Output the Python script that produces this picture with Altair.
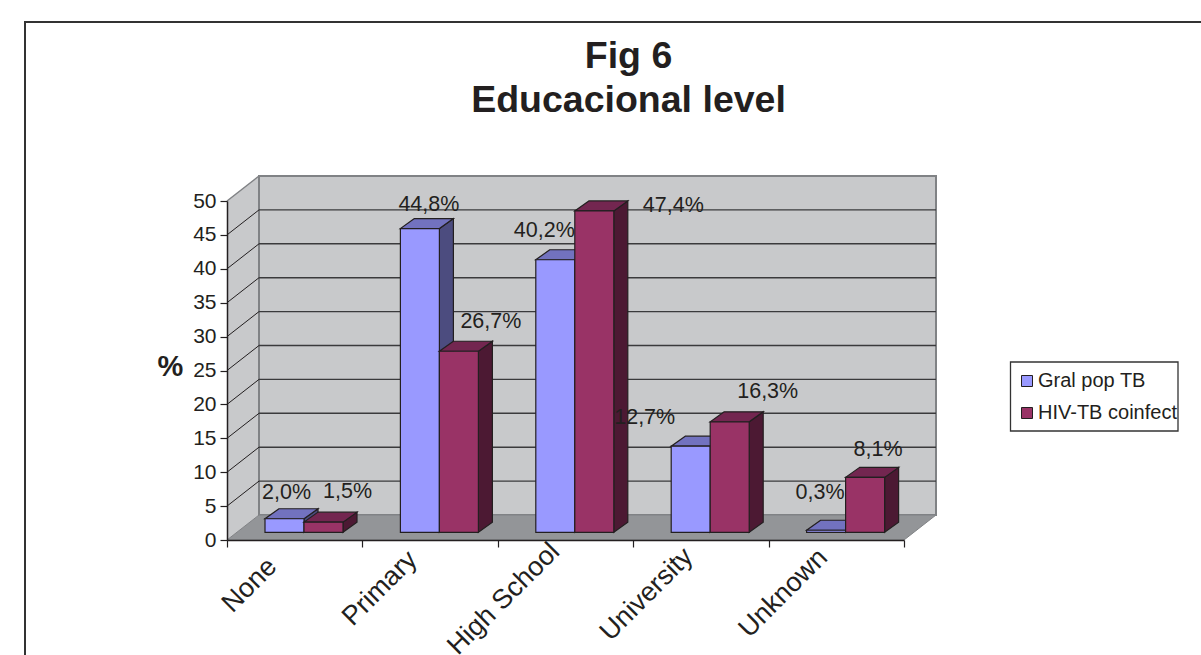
import altair as alt
import pandas as pd

categories = ["None", "Primary", "High School", "University", "Unknown"]
series_names = ["Gral pop TB", "HIV-TB coinfect"]
gral_pop = [2.0, 44.8, 40.2, 12.7, 0.3]
hiv_tb = [1.5, 26.7, 47.4, 16.3, 8.1]
y_ticks = [0, 5, 10, 15, 20, 25, 30, 35, 40, 45, 50]

# Hand-placed data labels: pixel nudge from the top centre of each bar's front face.
gral_label_nudge = [(2, -26), (9, -24), (-11, -29), (-46, -28), (-6, -37)]
hiv_label_nudge = [(24, -30), (32, -29), (79, -5), (38, -30), (13, -27)]

# Category labels were also placed by hand: shift along and away from the axis, per label.
cat_label_shift = [45, 50, 57, 55, 54, 0]
cat_label_gap = [15, 8, 0, 5, 6, 0]

PLOT_W, PLOT_H = 677, 339
PX_X, PX_Y = PLOT_W / 5, PLOT_H / 50

# Oblique projection: how far the back wall and each bar are pushed, in scale units.
WALL_DX, WALL_DY = 32 / PX_X, 25 / PX_Y
BAR_DX, BAR_DY = 14 / PX_X, 10 / PX_Y
BAR_BASE = 7.7 / PX_Y
BAR_LEFT, BAR_W = 38 / PX_X, 39 / PX_X

INK = "#231F20"
WALL = "#C8C9CB"
FLOOR = "#939598"
EDGE = "#808285"
FILLS = {
    series_names[0]: {"front": "#9999FF", "top": "#7272BF", "side": "#4C4C7F"},
    series_names[1]: {"front": "#993366", "top": "#732650", "side": "#4C1933"},
}
FONT = "Liberation Sans"

x_scale = alt.Scale(domain=[0, 5], nice=False, zero=False)
y_scale = alt.Scale(domain=[0, 50], nice=False, zero=False)
X = lambda f="x": alt.X(f"{f}:Q", scale=x_scale, axis=None)
Y = lambda f="y": alt.Y(f"{f}:Q", scale=y_scale, axis=None)

label_expr = "[" + ",".join(f"'{c}'" for c in categories) + f"][datum.value] || ''"
offset_expr = f"{cat_label_shift}[datum.value]"
padding_expr = f"{cat_label_gap}[datum.value]"

# Outer frame of the figure
frame = alt.Chart(pd.DataFrame({"a": [0]})).mark_rect(
    fill="white", stroke="#333333", strokeWidth=2
).encode(
    x=alt.value(25 - 227), x2=alt.value(1400), y=alt.value(22 - 201), y2=alt.value(800)
)

# Box behind the legend entries
legend_box = alt.Chart(pd.DataFrame({"a": [0]})).mark_rect(
    fill="white", stroke="#333333", strokeWidth=1.3
).encode(
    x=alt.value(1010.5 - 227), x2=alt.value(1178 - 227),
    y=alt.value(362 - 201), y2=alt.value(431 - 201),
)

# Walls and floor
left_wall = alt.Chart(pd.DataFrame({
    "x": [0, WALL_DX], "y": [0, WALL_DY], "y2": [50, 50 + WALL_DY],
})).mark_area(fill=WALL, stroke=None).encode(x=X(), y=Y(), y2="y2:Q")

back_wall = alt.Chart(pd.DataFrame({
    "x": [WALL_DX], "x2": [5 + WALL_DX], "y": [WALL_DY], "y2": [50 + WALL_DY],
})).mark_rect(fill=WALL, stroke=EDGE, strokeWidth=2).encode(x=X(), x2="x2:Q", y=Y(), y2="y2:Q")

floor = alt.Chart(pd.DataFrame({
    "y": [0, WALL_DY], "x": [0, WALL_DX], "x2": [5, 5 + WALL_DX],
})).mark_area(orient="horizontal", fill=FLOOR, stroke=EDGE, strokeWidth=1).encode(
    y=Y(), x=X(), x2="x2:Q"
)

# Gridlines run along the back wall and down the side wall to the axis
grid_vals = [v for v in y_ticks if 0 < v < 50]
grid_back = alt.Chart(pd.DataFrame({
    "x": [WALL_DX] * len(grid_vals), "x2": [5 + WALL_DX] * len(grid_vals),
    "y": [v + WALL_DY for v in grid_vals],
})).mark_rule(color="#3A3A3C", strokeWidth=1.4).encode(x=X(), x2="x2:Q", y=Y())

grid_side = alt.Chart(pd.DataFrame({
    "x": [0] * len(grid_vals), "x2": [WALL_DX] * len(grid_vals),
    "y": grid_vals, "y2": [v + WALL_DY for v in grid_vals],
})).mark_rule(color=INK, strokeWidth=1).encode(x=X(), x2="x2:Q", y=Y(), y2="y2:Q")

wall_top = alt.Chart(pd.DataFrame({
    "x": [0], "x2": [WALL_DX], "y": [50], "y2": [50 + WALL_DY],
})).mark_rule(color=EDGE, strokeWidth=1.5).encode(x=X(), x2="x2:Q", y=Y(), y2="y2:Q")

# One row per bar of one series; faces are layered back to front
def bar_table(name, values, shift):
    return pd.DataFrame({
        "cat": categories,
        "series": name,
        "left": [i + BAR_LEFT + shift * BAR_W for i in range(len(categories))],
        "right": [i + BAR_LEFT + (shift + 1) * BAR_W for i in range(len(categories))],
        "base": BAR_BASE,
        "top": [BAR_BASE + v for v in values],
    })


def bar_layers(table):
    name = table["series"].iloc[0]
    colours = FILLS[name]
    side = pd.concat([
        pd.DataFrame({"cat": table.cat, "x": table.right, "y": table.base, "y2": table.top}),
        pd.DataFrame({"cat": table.cat, "x": table.right + BAR_DX,
                      "y": table.base + BAR_DY, "y2": table.top + BAR_DY}),
    ])
    top = pd.concat([
        pd.DataFrame({"cat": table.cat, "y": table.top, "x": table.left, "x2": table.right}),
        pd.DataFrame({"cat": table.cat, "y": table.top + BAR_DY,
                      "x": table.left + BAR_DX, "x2": table.right + BAR_DX}),
    ])
    side_layer = alt.Chart(side).mark_area(
        fill=colours["side"], stroke=INK, strokeWidth=1.2
    ).encode(x=X(), y=Y(), y2="y2:Q", detail="cat:N")
    top_layer = alt.Chart(top).mark_area(
        orient="horizontal", fill=colours["top"], stroke=INK, strokeWidth=1.2
    ).encode(y=Y(), x=X(), x2="x2:Q", detail="cat:N")
    front_layer = alt.Chart(table).mark_rect(stroke=INK, strokeWidth=1.2).encode(
        x=X("left"), x2="right:Q", y=Y("base"), y2="top:Q",
        color=alt.Color(
            "series:N",
            scale=alt.Scale(domain=series_names,
                            range=[FILLS[n]["front"] for n in series_names]),
            legend=alt.Legend(
                title=None, orient="none", legendX=1009 - 227, legendY=363 - 201,
                symbolType="square", symbolSize=121, symbolStrokeColor=INK,
                symbolStrokeWidth=1, labelFont=FONT, labelFontSize=20, labelColor=INK,
                labelOffset=1, rowPadding=12, padding=8, labelLimit=200,
            ),
        ),
    )
    return [side_layer, top_layer, front_layer]


gral_bars = bar_table(series_names[0], gral_pop, 0)
hiv_bars = bar_table(series_names[1], hiv_tb, 1)


def label_table(table, values, nudges):
    return pd.DataFrame({
        "x": (table.left + table.right) / 2 + [n[0] / PX_X for n in nudges],
        "y": table.top - [n[1] / PX_Y for n in nudges],
        "text": [f"{v:.1f}%".replace(".", ",") for v in values],
    })


labels = alt.Chart(pd.concat([
    label_table(gral_bars, gral_pop, gral_label_nudge),
    label_table(hiv_bars, hiv_tb, hiv_label_nudge),
])).mark_text(font=FONT, fontSize=21.5, color=INK, baseline="middle").encode(
    x=X(), y=Y(), text="text:N"
)

# Carries the real axes over the front plane of the box
axes = alt.Chart(pd.DataFrame({"x": [0], "y": [0]})).mark_point(opacity=0).encode(
    x=alt.X("x:Q", scale=x_scale, axis=alt.Axis(
        title=None, values=[0, 1, 2, 3, 4, 5], grid=False, labelExpr=label_expr,
        labelAngle=-45, labelAlign="right", labelBaseline="middle",
        labelOffset=alt.expr(offset_expr), labelPadding=alt.expr(padding_expr),
        labelFont=FONT, labelFontSize=27,
        labelColor=INK, tickColor=INK, tickSize=7, tickWidth=1.2,
        domainColor=INK, domainWidth=1.5, labelOverlap=False, labelBound=False,
        labelFlush=False, zindex=1,
    )),
    y=alt.Y("y:Q", scale=y_scale, axis=alt.Axis(
        title="%", titleAngle=0, titleX=-57, titleY=165, titleFont=FONT,
        titleFontSize=29, titleFontWeight="bold", titleColor=INK,
        titleAlign="center", titleBaseline="middle",
        values=y_ticks, grid=False, labelFont=FONT, labelFontSize=21,
        labelColor=INK, labelPadding=4, tickColor=INK, tickSize=7, tickWidth=1.2,
        domainColor=INK, domainWidth=1.5, zindex=1,
    )),
)

chart = alt.layer(
    frame, legend_box, left_wall, back_wall, floor, grid_back, grid_side, wall_top,
    *bar_layers(gral_bars), *bar_layers(hiv_bars), labels, axes,
).resolve_axis(x="independent", y="independent").properties(
    width=PLOT_W,
    height=PLOT_H,
    padding={"left": 227, "top": 201, "right": 297, "bottom": 115},
    autosize=alt.AutoSizeParams(type="none"),
    background="white",
    title=alt.TitleParams(
        text=["Fig 6", "Educacional level"], font=FONT, fontSize=37.5, fontWeight="bold",
        color=INK, anchor="middle", frame="group", dx=63, lineHeight=44, offset=-98,
    ),
).configure_view(stroke=None)

chart.save("out.html", embed_options={"renderer": "svg", "actions": False})
